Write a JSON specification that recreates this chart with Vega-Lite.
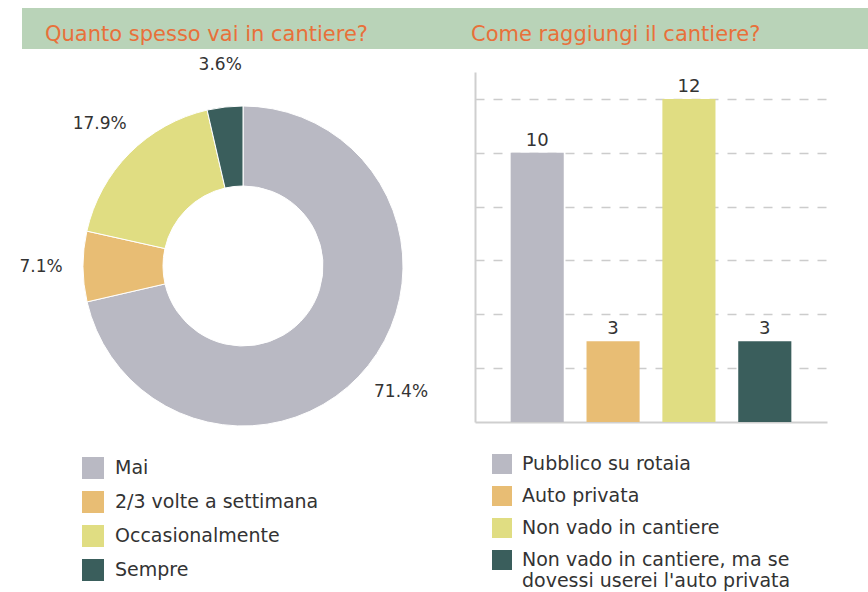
{
  "$schema": "https://vega.github.io/schema/vega-lite/v6.json",
  "padding": {"left": 19, "top": 8, "right": 0, "bottom": 0},
  "autosize": {"type": "pad"},
  "spacing": 7,
  "config": {
    "view": {"stroke": null},
    "font": "DejaVu Sans",
    "legend": {"labelFont": "DejaVu Sans", "labelColor": "#333333", "labelFontSize": 19, "symbolType": "square", "symbolStrokeWidth": 0, "symbolOpacity": 1, "padding": 0}
  },
  "vconcat": [
    {
      "hconcat": [
        {
          "width": 442, "height": 41,
          "view": {"fill": "#b9d3b8", "stroke": null},
          "data": {"values": [{}]},
          "mark": {"type": "point", "opacity": 0},
          "title": {"text": "Quanto spesso vai in cantiere?", "anchor": "start", "frame": "group", "orient": "top", "offset": -54, "baseline": "alphabetic", "dx": 23, "fontSize": 21, "fontWeight": "normal", "color": "#e8703a", "font": "DejaVu Sans"}
        },
        {
          "width": 404, "height": 41,
          "view": {"fill": "#b9d3b8", "stroke": null},
          "data": {"values": [{}]},
          "mark": {"type": "point", "opacity": 0},
          "title": {"text": "Come raggiungi il cantiere?", "anchor": "start", "frame": "group", "orient": "top", "offset": -54, "baseline": "alphabetic", "dx": 7, "fontSize": 21, "fontWeight": "normal", "color": "#e8703a", "font": "DejaVu Sans"}
        }
      ],
      "spacing": 0,
      "bounds": "flush"
    },
    {
      "hconcat": [
        {
          "width": 442, "height": 388,
          "data": {"values": [
            {"freq": "Mai", "quota": 0.714, "k": 1},
            {"freq": "2/3 volte a settimana", "quota": 0.071, "k": 2},
            {"freq": "Occasionalmente", "quota": 0.179, "k": 3},
            {"freq": "Sempre", "quota": 0.036, "k": 4}
          ]},
          "encoding": {
            "theta": {"field": "quota", "type": "quantitative", "stack": true},
            "order": {"field": "k", "type": "quantitative"}
          },
          "layer": [
            {
              "mark": {"type": "arc", "outerRadius": 160, "innerRadius": 80, "stroke": "#ffffff", "strokeWidth": 1},
              "encoding": {
                "color": {
                  "field": "freq", "type": "nominal",
                  "scale": {"domain": ["Mai", "2/3 volte a settimana", "Occasionalmente", "Sempre"], "range": ["#b9b9c3", "#e8bd74", "#e0dd82", "#3a5e5c"]},
                  "legend": {"orient": "none", "legendX": 60, "legendY": 385, "direction": "vertical", "title": null, "symbolSize": 484, "rowPadding": 12, "labelOffset": 11, "labelLimit": 400}
                }
              }
            },
            {
              "mark": {"type": "text", "radius": 202, "fontSize": 17, "color": "#333333", "align": "center", "baseline": "middle"},
              "encoding": {
                "detail": {"field": "freq", "type": "nominal"},
                "text": {"field": "quota", "type": "quantitative", "format": ".1%"}
              }
            }
          ]
        },
        {
          "width": 352, "height": 350,
          "data": {"values": [
            {"mezzo": "Pubblico su rotaia", "n": 10},
            {"mezzo": "Auto privata", "n": 3},
            {"mezzo": "Non vado in cantiere", "n": 12},
            {"mezzo": "Non vado in cantiere, ma se dovessi userei l'auto privata", "n": 3}
          ]},
          "encoding": {
            "x": {"field": "mezzo", "type": "nominal", "sort": null, "scale": {"paddingInner": 0.3, "paddingOuter": 0.47}, "axis": {"labels": false, "ticks": false, "title": null, "domainColor": "#cfcfcf", "domainWidth": 2}},
            "y": {"field": "n", "type": "quantitative", "scale": {"domain": [0, 13], "nice": false}, "axis": {"values": [2, 4, 6, 8, 10, 12], "labels": false, "ticks": false, "title": null, "domainColor": "#cfcfcf", "domainWidth": 2, "gridDash": [9, 9], "gridColor": "#cccccc", "gridWidth": 1.5}}
          },
          "layer": [
            {
              "mark": {"type": "bar"},
              "encoding": {
                "color": {
                  "field": "mezzo", "type": "nominal",
                  "scale": {"domain": ["Pubblico su rotaia", "Auto privata", "Non vado in cantiere", "Non vado in cantiere, ma se dovessi userei l'auto privata"], "range": ["#b9b9c3", "#e8bd74", "#e0dd82", "#3a5e5c"]},
                  "legend": {"orient": "none", "legendX": 17, "legendY": 382, "direction": "vertical", "title": null, "symbolSize": 400, "rowPadding": 12, "labelOffset": 10, "labelLimit": 400, "labelExpr": "split(replace(datum.label, ', ma se ', ', ma se|'), '|')"}
                }
              }
            },
            {
              "mark": {"type": "text", "baseline": "bottom", "dy": -3, "fontSize": 18, "color": "#333333"},
              "encoding": {"text": {"field": "n", "type": "quantitative"}}
            }
          ]
        }
      ],
      "spacing": 11,
      "bounds": "flush",
      "resolve": {"scale": {"color": "independent"}, "legend": {"color": "independent"}}
    }
  ]
}
